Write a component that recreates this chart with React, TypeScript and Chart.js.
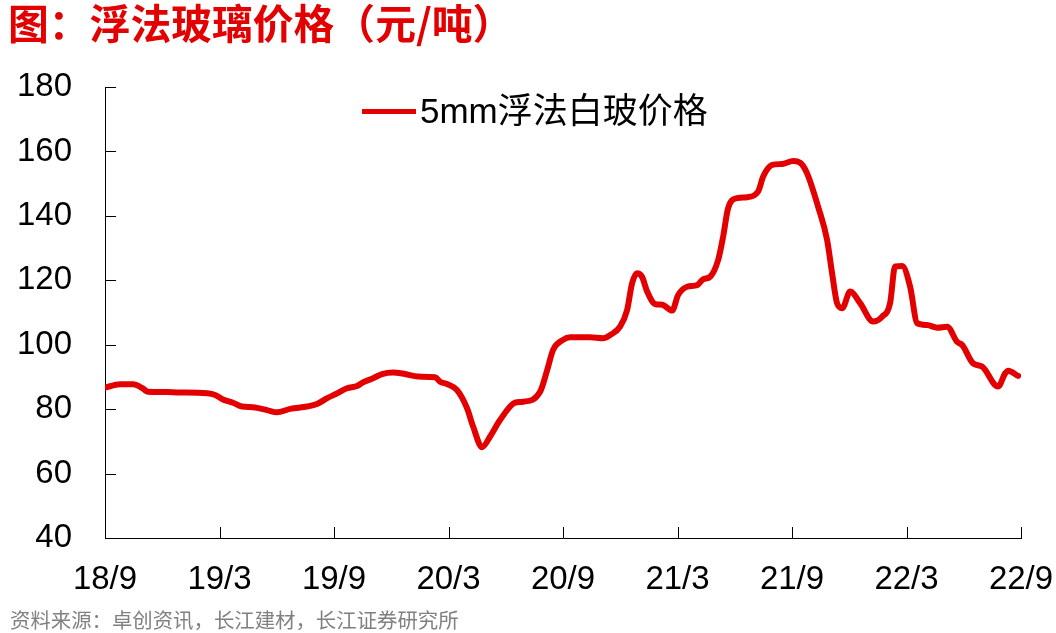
import React, { useEffect, useRef } from "react";
import { Chart, registerables } from "chart.js";

Chart.register(...registerables);

// months since 2018-09
const monthOffsets = [
  0, 0.79, 1.47, 1.94, 2.25, 3.25, 3.77, 5.35, 5.77, 6.18, 6.71, 7.18, 7.76, 8.49, 9.01, 9.7,
  10.59, 11.11, 11.64, 12.16, 12.68, 13.21, 13.52, 14.05, 14.52, 15.09, 15.72, 16.4, 17.3, 17.56,
  17.92, 18.45, 18.97, 19.29, 19.76, 20.18, 20.7, 21.49, 21.91, 22.8, 23.17, 23.48, 24.0, 24.37,
  25.42, 26.1, 26.47, 26.99, 27.36, 27.62, 27.88, 28.14, 28.41, 28.83, 29.19, 29.72, 30.03, 30.5,
  31.03, 31.34, 31.71, 32.13, 32.39, 32.65, 33.12, 33.65, 34.22, 34.49, 34.96, 35.48, 36.06, 36.43,
  36.79, 37.37, 37.84, 38.1, 38.36, 38.63, 39.05, 39.57, 40.25, 40.72, 41.14, 41.4, 41.77, 42.19,
  42.56, 43.08, 43.61, 44.13, 44.65, 44.92, 45.49, 45.96, 46.8, 47.17, 47.33, 47.85,
];

const priceValues = [
  86.7, 87.7, 87.7, 86.6, 85.4, 85.3, 85.2, 84.9, 84.4, 83.0, 82.0, 80.8, 80.6, 79.7, 79.0, 80.1,
  80.8, 81.6, 83.4, 84.9, 86.5, 87.2, 88.3, 89.6, 90.9, 91.4, 90.9, 90.1, 89.9, 88.5,
  87.8, 85.9, 80.3, 74.6, 68.2, 71.5, 76.6, 82.0, 82.3, 85.4, 92.1, 98.4, 101.5, 102.3,
  102.3, 102.0, 103.0, 105.6, 110.8, 119.1, 122.2, 121.1, 116.5, 112.6, 112.4, 110.6, 115.4, 118.0,
  118.5, 120.3, 121.1, 126.3, 133.5, 142.3, 145.5, 145.8, 147.5, 152.2, 155.8, 156.1, 157.0, 156.5,
  153.2, 142.8, 132.5, 122.2, 112.9, 111.3, 116.5, 112.9, 107.2, 108.7, 112.9, 124.3, 124.4, 118.0,
  106.7, 106.1, 105.3, 105.6, 100.9, 99.9, 94.2, 93.2, 87.0, 91.1, 91.9, 90.3,
];

const xTickLabels = ["18/9", "19/3", "19/9", "20/3", "20/9", "21/3", "21/9", "22/3", "22/9"];
const seriesName = "5mm浮法白玻价格";
const titleText = "图：浮法玻璃价格（元/吨）";
const sourceText = "资料来源：卓创资讯，长江建材，长江证券研究所";

const RED = "#E30000";

const tickMarks = {
  id: "tickMarks",
  afterDraw(chart: any) {
    const ctx = chart.ctx;
    const xs = chart.scales.x;
    const ys = chart.scales.y;
    const area = chart.chartArea;
    ctx.save();
    ctx.strokeStyle = "#000";
    ctx.lineWidth = 1;
    ctx.beginPath();
    ys.ticks.forEach((t: any) => {
      const py = Math.round(ys.getPixelForValue(t.value)) + 0.5;
      ctx.moveTo(area.left, py);
      ctx.lineTo(area.left + 11, py);
    });
    xs.ticks.forEach((t: any) => {
      const px = Math.round(xs.getPixelForValue(t.value)) + 0.5;
      ctx.moveTo(px, area.bottom);
      ctx.lineTo(px, area.bottom - 11);
    });
    ctx.stroke();
    ctx.restore();
  },
};

export default function App() {
  const ref = useRef<HTMLCanvasElement | null>(null);

  useEffect(() => {
    if (!ref.current) return;
    const data = monthOffsets.map((m, i) => ({ x: m, y: priceValues[i] }));
    const chart = new Chart(ref.current, {
      type: "line",
      data: {
        datasets: [
          {
            label: seriesName,
            data,
            borderColor: RED,
            backgroundColor: RED,
            borderWidth: 6,
            pointRadius: 0,
            cubicInterpolationMode: "monotone",
            borderCapStyle: "round",
            borderJoinStyle: "round",
          },
        ],
      },
      options: {
        responsive: false,
        animation: false,
        layout: { padding: { top: 87, right: 35, left: 0, bottom: 0 } },
        plugins: {
          legend: { display: false },
          title: { display: false },
          tooltip: { enabled: false },
        },
        scales: {
          x: {
            type: "linear",
            min: 0,
            max: 48,
            afterFit: (s: any) => {
              s.height = 95;
              s.paddingRight = 0;
              s.paddingLeft = 0;
            },
            afterBuildTicks: (s: any) => {
              s.ticks = xTickLabels.map((_, i) => ({ value: i * 6 }));
            },
            ticks: {
              callback: (v: any) => xTickLabels[Math.round(Number(v) / 6)] ?? "",
              autoSkip: false,
              maxRotation: 0,
              padding: 22,
              color: "#000",
              font: { family: "'Liberation Sans', Arial, sans-serif", size: 33 },
            },
            grid: { display: false, drawTicks: false },
            border: { display: true, color: "#000", width: 1 },
          },
          y: {
            min: 40,
            max: 180,
            afterFit: (s: any) => {
              s.width = 105;
              s.paddingTop = 0;
              s.paddingBottom = 0;
            },
            ticks: {
              stepSize: 20,
              padding: 33,
              color: "#000",
              font: { family: "'Liberation Sans', Arial, sans-serif", size: 33 },
            },
            grid: { display: false, drawTicks: false },
            border: { display: true, color: "#000", width: 1 },
          },
        },
      },
      plugins: [tickMarks],
    } as any);
    return () => chart.destroy();
  }, []);

  return (
    <div
      style={{
        position: "fixed",
        left: 0,
        top: 0,
        width: 1056,
        height: 633,
        background: "#fff",
        overflow: "hidden",
      }}
    >
      <canvas
        ref={ref}
        width={1056}
        height={633}
        style={{ position: "absolute", left: 0, top: 0, width: 1056, height: 633 }}
      />
      <div
        style={{
          position: "absolute",
          left: 8,
          top: 0,
          fontFamily: "'Noto Sans CJK SC', sans-serif",
          fontWeight: 700,
          fontSize: 40.8,
          lineHeight: "44px",
          color: RED,
          whiteSpace: "nowrap",
        }}
      >
        {titleText}
      </div>
      <div
        style={{
          position: "absolute",
          left: 362,
          top: 94,
          height: 34,
          display: "flex",
          alignItems: "center",
          whiteSpace: "nowrap",
        }}
      >
        <div style={{ width: 54, height: 5, background: RED, marginRight: 4 }} />
        <span
          style={{
            fontFamily: "'Liberation Sans', 'Noto Sans CJK SC', sans-serif",
            fontSize: 35,
            lineHeight: "34px",
            color: "#000",
          }}
        >
          {seriesName}
        </span>
      </div>
      <div
        style={{
          position: "absolute",
          left: 10,
          top: 607,
          fontFamily: "'Noto Sans CJK SC', sans-serif",
          fontSize: 20.4,
          lineHeight: "24px",
          color: "#808080",
          whiteSpace: "nowrap",
        }}
      >
        {sourceText}
      </div>
    </div>
  );
}
